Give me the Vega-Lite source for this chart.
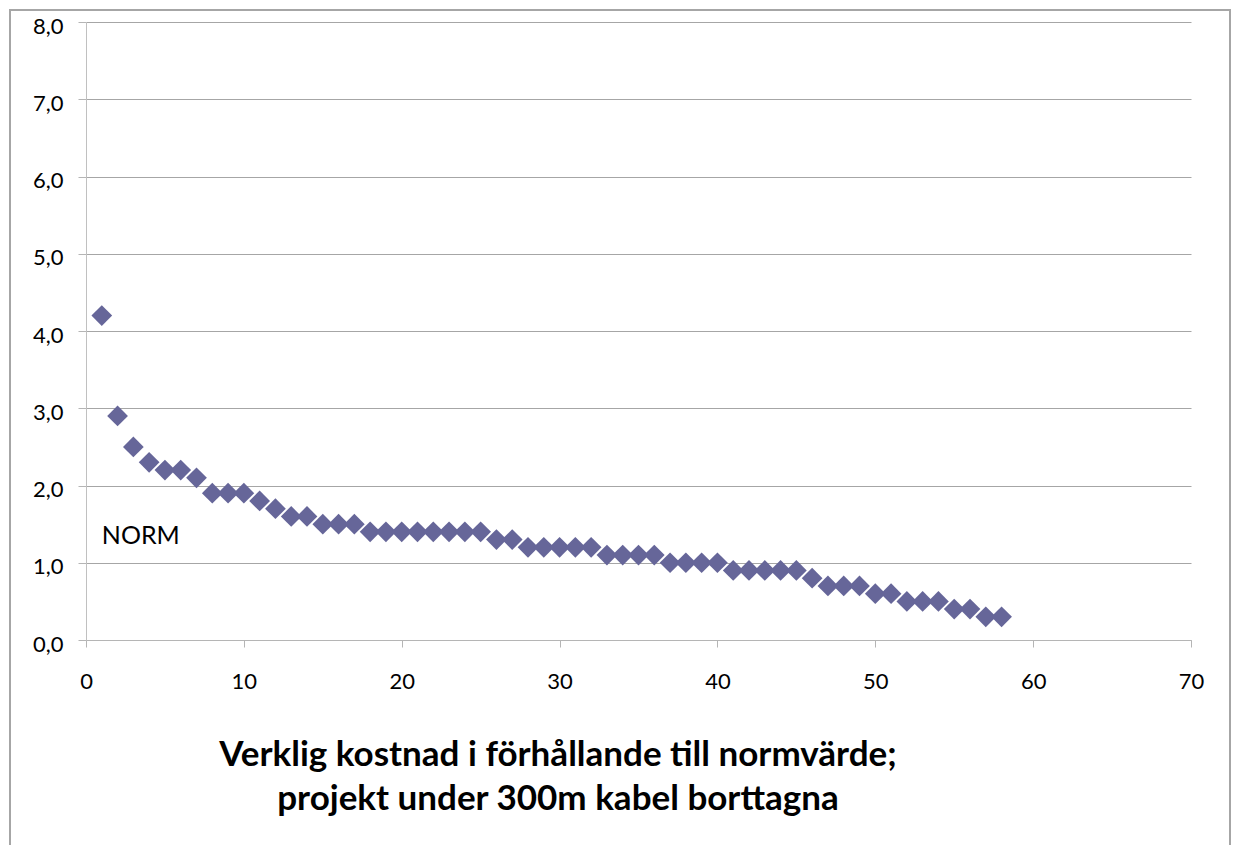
{
  "$schema": "https://vega.github.io/schema/vega-lite/v6.json",
  "width": 1220,
  "height": 845,
  "autosize": {"type": "none"},
  "padding": {"left": 10, "top": 10, "right": 9, "bottom": 0},
  "background": "white",
  "config": {
    "view": {"stroke": "#a6a6a6", "strokeWidth": 2},
    "font": "Lato"
  },
  "title": {
    "text": ["Verklig kostnad i förhållande till normvärde;", "projekt under 300m kabel borttagna"],
    "orient": "bottom",
    "anchor": "middle",
    "offset": -117,
    "dx": -62,
    "fontSize": 35,
    "fontWeight": "bold",
    "font": "Lato",
    "lineHeight": 44,
    "color": "black"
  },
  "layer": [
    {
      "data": {
        "values": [
          {"n": 1, "ratio": 4.2}, {"n": 2, "ratio": 2.9}, {"n": 3, "ratio": 2.5}, {"n": 4, "ratio": 2.3},
          {"n": 5, "ratio": 2.2}, {"n": 6, "ratio": 2.2}, {"n": 7, "ratio": 2.1}, {"n": 8, "ratio": 1.9},
          {"n": 9, "ratio": 1.9}, {"n": 10, "ratio": 1.9}, {"n": 11, "ratio": 1.8}, {"n": 12, "ratio": 1.7},
          {"n": 13, "ratio": 1.6}, {"n": 14, "ratio": 1.6}, {"n": 15, "ratio": 1.5}, {"n": 16, "ratio": 1.5},
          {"n": 17, "ratio": 1.5}, {"n": 18, "ratio": 1.4}, {"n": 19, "ratio": 1.4}, {"n": 20, "ratio": 1.4},
          {"n": 21, "ratio": 1.4}, {"n": 22, "ratio": 1.4}, {"n": 23, "ratio": 1.4}, {"n": 24, "ratio": 1.4},
          {"n": 25, "ratio": 1.4}, {"n": 26, "ratio": 1.3}, {"n": 27, "ratio": 1.3}, {"n": 28, "ratio": 1.2},
          {"n": 29, "ratio": 1.2}, {"n": 30, "ratio": 1.2}, {"n": 31, "ratio": 1.2}, {"n": 32, "ratio": 1.2},
          {"n": 33, "ratio": 1.1}, {"n": 34, "ratio": 1.1}, {"n": 35, "ratio": 1.1}, {"n": 36, "ratio": 1.1},
          {"n": 37, "ratio": 1.0}, {"n": 38, "ratio": 1.0}, {"n": 39, "ratio": 1.0}, {"n": 40, "ratio": 1.0},
          {"n": 41, "ratio": 0.9}, {"n": 42, "ratio": 0.9}, {"n": 43, "ratio": 0.9}, {"n": 44, "ratio": 0.9},
          {"n": 45, "ratio": 0.9}, {"n": 46, "ratio": 0.8}, {"n": 47, "ratio": 0.7}, {"n": 48, "ratio": 0.7},
          {"n": 49, "ratio": 0.7}, {"n": 50, "ratio": 0.6}, {"n": 51, "ratio": 0.6}, {"n": 52, "ratio": 0.5},
          {"n": 53, "ratio": 0.5}, {"n": 54, "ratio": 0.5}, {"n": 55, "ratio": 0.4}, {"n": 56, "ratio": 0.4},
          {"n": 57, "ratio": 0.3}, {"n": 58, "ratio": 0.3}
        ]
      },
      "mark": {"type": "point", "shape": "diamond", "filled": true, "size": 430, "color": "#666699", "opacity": 1},
      "encoding": {
        "x": {
          "field": "n", "type": "quantitative",
          "scale": {"domain": [0, 70], "range": [76, 1181], "nice": false, "zero": false},
          "axis": {
            "orient": "bottom", "offset": -215, "title": null,
            "values": [0, 10, 20, 30, 40, 50, 60, 70],
            "grid": false,
            "domainColor": "#b5b5b5", "domainWidth": 1,
            "tickColor": "#b5b5b5", "tickSize": 7,
            "labelFont": "Lato", "labelFontSize": 22, "labelColor": "black",
            "labelPadding": 24, "labelFlush": false, "labelOverlap": false
          }
        },
        "y": {
          "field": "ratio", "type": "quantitative",
          "scale": {"domain": [0, 8], "range": [630, 12], "nice": false, "zero": true},
          "axis": {
            "orient": "left", "offset": -76, "title": null,
            "values": [0, 1, 2, 3, 4, 5, 6, 7, 8],
            "labelExpr": "replace(format(datum.value, '.1f'), '.', ',')",
            "grid": true, "gridColor": "#a6a6a6", "gridWidth": 1,
            "domainColor": "#c0c0c0", "domainWidth": 1,
            "tickColor": "#b5b5b5", "tickSize": 8,
            "labelFont": "Lato", "labelFontSize": 22, "labelColor": "black",
            "labelPadding": 15, "labelFlush": false, "labelOverlap": false,
            "labelBaseline": "middle", "labelOffset": 4
          }
        }
      }
    },
    {
      "data": {"values": [{"label": "NORM"}]},
      "mark": {"type": "text", "font": "Lato", "fontSize": 25, "fontWeight": "normal", "color": "black", "align": "center", "baseline": "alphabetic"},
      "encoding": {
        "text": {"field": "label", "type": "nominal"},
        "x": {"datum": 3.47, "type": "quantitative"},
        "y": {"datum": 1.24, "type": "quantitative"}
      }
    }
  ]
}
